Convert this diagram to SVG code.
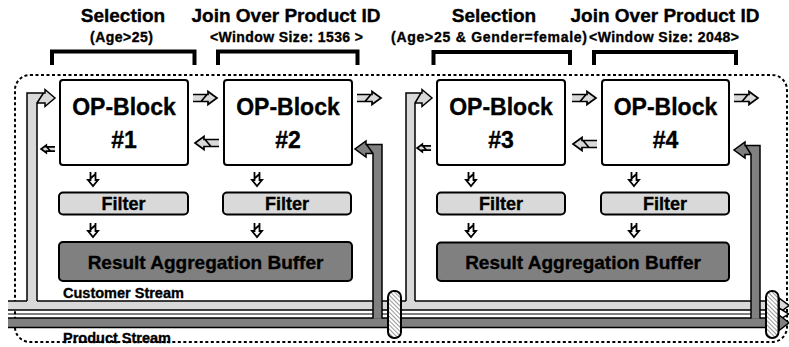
<svg xmlns="http://www.w3.org/2000/svg" xmlns:xlink="http://www.w3.org/1999/xlink" width="789" height="347" viewBox="0 0 789 347">
  <style>
    .t { font-family: "Liberation Sans", Arial, sans-serif; font-weight: bold; fill: #000; stroke: #000; stroke-width: 0.35; text-anchor: middle; }
    .title { font-size: 19px; }
    .sub { font-size: 14px; }
    .op { font-size: 23px; }
    .flt { font-size: 18px; }
    .buf { font-size: 19px; }
    .lbl { font-size: 14.5px; text-anchor: start; }
    .box { fill: #fff; stroke: #000; stroke-width: 2; }
    .filter { fill: #d9d9d9; stroke: #000; stroke-width: 2; }
    .buffer { fill: #808080; stroke: #000; stroke-width: 2; }
    .bracket { fill: none; stroke: #000; stroke-width: 4; }
    .edge { fill: none; stroke: #000; stroke-width: 1.5; }
    .light { fill: #d9d9d9; }
    .dark { fill: #808080; }
    .valve { fill: url(#hatch); stroke: #000; stroke-width: 2; }
  </style>
  <defs>
    <!-- diagonal hatching for the stream valves -->
    <pattern id="hatch" patternUnits="userSpaceOnUse" width="3" height="3" patternTransform="rotate(-45)">
      <rect width="3" height="3" fill="#fff"/>
      <line x1="0" y1="0" x2="0" y2="3" stroke="#6e6e6e" stroke-width="1.4"/>
    </pattern>
    <!-- striped block arrow, pointing right, origin at the tail centre -->
    <g id="arrow-r">
      <path d="M0,-3.5 H15 V-6.5 L24,0 L15,6.5 V3.5 H0 Z" fill="#d9d9d9"/>
      <path d="M0,-3.5 H15 V-6.5 L24,0 L15,6.5 V3.5 H0 M8,3.5 L14,-3.5" fill="none" stroke="#000" stroke-width="1.7" vector-effect="non-scaling-stroke"/>
    </g>
    <!-- small block arrow, pointing down, origin at the tail centre -->
    <g id="arrow-d">
      <path d="M-2.5,0 V8 H-5 L0,14 L5,8 H2.5 V0 Z" fill="#fff"/>
      <path d="M-2.5,0 V8 H-5 L0,14 L5,8 H2.5 V0 M-2.5,6.5 L2.5,2" fill="none" stroke="#000" stroke-width="1.8"/>
    </g>
  </defs>

  <rect width="789" height="347" fill="#fff"/>

  <!-- dashed enclosure -->
  <rect x="15" y="75" width="772" height="267" rx="15" fill="none" stroke="#000" stroke-width="2" stroke-dasharray="3 2.5"/>

  <!-- operator headings -->
  <g id="headings">
    <text class="t title" x="123" y="22">Selection</text>
    <text class="t sub" x="121.5" y="42" textLength="63">(Age&gt;25)</text>
    <path class="bracket" d="M52,65 V51.5 H194.5 V65"/>
    <text class="t title" x="286" y="22">Join Over Product ID</text>
    <text class="t sub" x="286.5" y="42" textLength="153">&lt;Window Size: 1536 &gt;</text>
    <path class="bracket" d="M218,65 V51.5 H357.5 V65"/>
    <text class="t title" x="494" y="22">Selection</text>
    <text class="t sub" x="489" y="42" textLength="196">(Age&gt;25 &amp; Gender=female)</text>
    <path class="bracket" d="M433.5,65 V52 H570 V65"/>
    <text class="t title" x="665" y="22">Join Over Product ID</text>
    <text class="t sub" x="664" y="42" textLength="150">&lt;Window Size: 2048&gt;</text>
    <path class="bracket" d="M594,65 V52 H736 V65"/>
  </g>

  <g id="connectors">
    <!-- customer stream -->
    <rect class="light" x="8" y="301" width="772" height="9"/>
    <path class="edge" d="M8,301 H780 M8,310 H780"/>
    <!-- middle channel -->
    <path d="M8,314 H780" stroke="#000" stroke-width="1.2"/>
    <!-- product stream -->
    <rect class="dark" x="8" y="318" width="772" height="9.5"/>
    <path class="edge" d="M8,318 H780 M8,327.5 H780"/>
    <!-- stream heads -->
    <path d="M779,298 L789,305.5 L779,313 Z" fill="#d9d9d9" stroke="#000" stroke-width="1.5"/>
    <path d="M779,308 L789,314 L779,320 Z" fill="#fff" stroke="#000" stroke-width="1.5"/>
    <path d="M779,315 L789,322.75 L779,330.5 Z" fill="#808080" stroke="#000" stroke-width="1.5"/>

    <!-- customer feed into OP-Block #1 -->
    <path class="light" d="M27,302 V93 H45 V89.5 L55,98 L45,106.5 V103 H37 V302 Z"/>
    <path class="edge" d="M27,301 V93 H45 V89.5 L55,98 L45,106.5 V103 H37 V301 M37,103 L43.5,93"/>
    <!-- customer feed into OP-Block #3 -->
    <path class="light" d="M406,302 V93 H422 V89.5 L432,98 L422,106.5 V103 H415 V302 Z"/>
    <path class="edge" d="M406,301 V93 H422 V89.5 L432,98 L422,106.5 V103 H415 V301 M415,103 L421,93"/>
    <!-- product feed into OP-Block #2 -->
    <path class="dark" d="M382,318.8 V144.5 H366 V141 L355,149 L366,157 V153.5 H373 V318.8 Z"/>
    <path class="edge" d="M382,318.5 V144.5 H366 V141 L355,149 L366,157 V153.5 H373 V318.5 M373,153.5 L366.5,144.5"/>
    <!-- product feed into OP-Block #4 -->
    <path class="dark" d="M760,318.8 V145.5 H745 V142 L734,150 L745,158 V154.5 H751 V318.8 Z"/>
    <path class="edge" d="M760,318.5 V145.5 H745 V142 L734,150 L745,158 V154.5 H751 V318.5 M751,154.5 L745.5,145.5"/>

    <!-- valves on the streams -->
    <rect class="valve" x="388" y="291" width="13" height="47" rx="6"/>
    <rect class="valve" x="766" y="291" width="12.5" height="47" rx="6"/>

    <!-- block-to-block links -->
    <use xlink:href="#arrow-r" transform="translate(193,98)"/>
    <use xlink:href="#arrow-r" transform="translate(219,143) scale(-1,1)"/>
    <use xlink:href="#arrow-r" transform="translate(357,98)"/>
    <use xlink:href="#arrow-r" transform="translate(55,149) scale(-0.58,0.58)"/>
    <use xlink:href="#arrow-r" transform="translate(572,98)"/>
    <use xlink:href="#arrow-r" transform="translate(597,144) scale(-1,1)"/>
    <use xlink:href="#arrow-r" transform="translate(734,98)"/>
    <use xlink:href="#arrow-r" transform="translate(431,148) scale(-0.58,0.58)"/>

    <!-- block to filter to buffer -->
    <use xlink:href="#arrow-d" x="93" y="172"/>
    <use xlink:href="#arrow-d" x="93" y="223"/>
    <use xlink:href="#arrow-d" x="257" y="172"/>
    <use xlink:href="#arrow-d" x="257" y="223"/>
    <use xlink:href="#arrow-d" x="471" y="172"/>
    <use xlink:href="#arrow-d" x="471" y="223"/>
    <use xlink:href="#arrow-d" x="634" y="172"/>
    <use xlink:href="#arrow-d" x="634" y="223"/>
  </g>

  <g id="op-block-1">
    <rect class="box" x="60" y="80" width="128" height="85" rx="3"/>
    <text class="t op" x="124" y="115">OP-Block</text>
    <text class="t op" x="124" y="148">#1</text>
  </g>
  <g id="op-block-2">
    <rect class="box" x="224" y="80" width="128" height="85" rx="3"/>
    <text class="t op" x="288" y="115">OP-Block</text>
    <text class="t op" x="288" y="148">#2</text>
  </g>
  <g id="op-block-3">
    <rect class="box" x="437" y="80" width="128" height="85" rx="3"/>
    <text class="t op" x="501" y="115">OP-Block</text>
    <text class="t op" x="501" y="148">#3</text>
  </g>
  <g id="op-block-4">
    <rect class="box" x="602" y="80" width="127" height="85" rx="3"/>
    <text class="t op" x="665.5" y="115">OP-Block</text>
    <text class="t op" x="665.5" y="148">#4</text>
  </g>

  <g id="filter-1">
    <rect class="filter" x="59" y="192.5" width="129" height="22" rx="4"/>
    <text class="t flt" x="123.5" y="210">Filter</text>
  </g>
  <g id="filter-2">
    <rect class="filter" x="223" y="192.5" width="128" height="22" rx="4"/>
    <text class="t flt" x="287" y="210">Filter</text>
  </g>
  <g id="filter-3">
    <rect class="filter" x="437" y="192.5" width="128" height="22" rx="4"/>
    <text class="t flt" x="501" y="210">Filter</text>
  </g>
  <g id="filter-4">
    <rect class="filter" x="601" y="192.5" width="128" height="22" rx="4"/>
    <text class="t flt" x="665" y="210">Filter</text>
  </g>

  <g id="buffer-1">
    <rect class="buffer" x="59" y="242" width="293" height="39" rx="4"/>
    <text class="t buf" x="205.5" y="269">Result Aggregation Buffer</text>
  </g>
  <g id="buffer-2">
    <rect class="buffer" x="437" y="242.5" width="292" height="38.5" rx="4"/>
    <text class="t buf" x="583" y="269">Result Aggregation Buffer</text>
  </g>

  <g id="stream-labels">
    <text class="t lbl" x="63" y="298">Customer Stream</text>
    <text class="t lbl" x="63" y="343">Product Stream</text>
  </g>
</svg>
